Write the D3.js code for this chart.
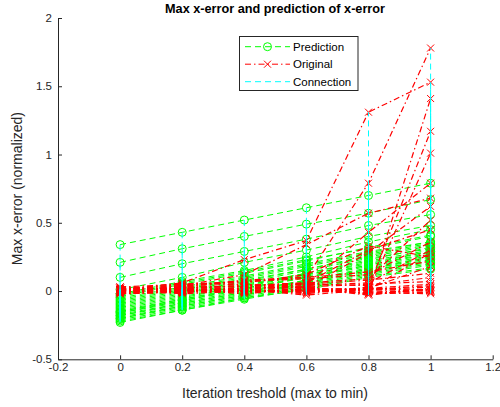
<!DOCTYPE html>
<html>
<head>
<meta charset="utf-8">
<script src="https://cdn.jsdelivr.net/npm/d3@7"></script>
<style>
  html, body { margin: 0; padding: 0; background: #fff; }
  svg { display: block; font-family: "Liberation Sans", Arial, Helvetica, sans-serif; }
</style>
</head>
<body>
<svg id="chart" width="500" height="407"></svg>
<script>
// Iteration thresholds (max to min), shared by every run
const thresholds = [0, 0.2, 0.4, 0.6, 0.8, 1];

// Predicted max x-error per run (normalized)
const predicted = [
  [0.34, 0.43, 0.52, 0.61, 0.70, 0.79],
  [0.21, 0.31, 0.40, 0.49, 0.57, 0.67],
  [0.10, 0.20, 0.29, 0.38, 0.48, 0.56],
  [0.01, 0.10, 0.21, 0.30, 0.40, 0.48],
  [-0.02, 0.07, 0.15, 0.25, 0.36, 0.45],
  [-0.04, 0.05, 0.13, 0.22, 0.32, 0.41],
  [-0.05, 0.03, 0.11, 0.20, 0.29, 0.36],
  [-0.07, 0.01, 0.09, 0.18, 0.27, 0.35],
  [-0.08, 0.00, 0.08, 0.16, 0.25, 0.33],
  [-0.10, -0.02, 0.06, 0.15, 0.24, 0.31],
  [-0.11, -0.03, 0.05, 0.13, 0.22, 0.30],
  [-0.13, -0.05, 0.04, 0.12, 0.21, 0.29],
  [-0.14, -0.06, 0.02, 0.11, 0.19, 0.27],
  [-0.15, -0.07, 0.01, 0.10, 0.18, 0.26],
  [-0.16, -0.08, 0.00, 0.08, 0.17, 0.25],
  [-0.17, -0.09, -0.01, 0.07, 0.16, 0.24],
  [-0.18, -0.10, -0.02, 0.06, 0.15, 0.22],
  [-0.19, -0.11, -0.03, 0.05, 0.14, 0.21],
  [-0.20, -0.12, -0.04, 0.04, 0.13, 0.20],
  [-0.21, -0.13, -0.05, 0.03, 0.12, 0.19],
  [-0.22, -0.14, -0.06, 0.02, 0.11, 0.17],
  [-0.23, -0.14, -0.05, 0.01, 0.10, 0.16],
  [-0.06, 0.02, 0.10, 0.19, 0.28, 0.36],
  [-0.09, -0.01, 0.07, 0.16, 0.26, 0.34],
  [-0.12, -0.04, 0.04, 0.13, 0.23, 0.32],
  [-0.16, -0.07, 0.02, 0.10, 0.19, 0.28],
  [-0.18, -0.09, -0.01, 0.08, 0.16, 0.25],
  [-0.20, -0.11, -0.03, 0.06, 0.15, 0.23],
  [-0.03, 0.06, 0.14, 0.23, 0.31, 0.40],
  [-0.15, -0.06, 0.03, 0.12, 0.20, 0.29]
];

// Measured (original) max x-error per run (normalized)
const original = [
  [0.01, 0.05, 0.07, 0.09, 0.12, 0.36],
  [-0.01, 0.02, 0.04, 0.05, 0.43, 0.79],
  [0.03, 0.01, 0.02, 0.04, 0.06, 0.30],
  [0.01, 0.06, 0.23, 0.37, 1.31, 1.53],
  [0.00, 0.03, 0.08, 0.10, 0.79, 1.78],
  [0.02, 0.04, 0.12, 0.34, 0.57, 0.68],
  [0.01, -0.01, 0.02, 0.03, -0.02, 1.41],
  [-0.02, 0.00, 0.01, -0.02, 0.03, 1.17],
  [0.00, 0.01, -0.01, 0.01, 0.00, 1.01],
  [0.02, 0.02, 0.04, 0.06, 0.30, 0.45],
  [0.03, 0.05, 0.06, 0.12, 0.33, 0.25],
  [-0.01, 0.01, 0.02, 0.03, 0.28, 0.62],
  [0.01, -0.02, 0.00, 0.01, 0.02, 0.18],
  [0.00, 0.03, 0.03, 0.05, 0.08, 0.13],
  [-0.02, 0.00, 0.01, -0.03, 0.01, 0.00],
  [0.01, 0.01, -0.02, 0.02, -0.03, 0.02],
  [0.00, 0.02, 0.00, 0.00, -0.01, -0.02],
  [-0.01, 0.04, 0.05, 0.02, 0.01, 0.04],
  [0.02, 0.01, 0.00, -0.01, 0.02, 0.05],
  [0.00, -0.01, 0.02, 0.03, -0.02, 0.01],
  [0.01, 0.02, 0.01, 0.00, 0.01, 0.03],
  [-0.02, -0.01, 0.00, 0.01, 0.00, -0.01],
  [0.01, 0.04, 0.07, 0.10, 0.14, 0.22],
  [0.02, 0.00, 0.02, 0.05, 0.04, 0.10],
  [0.00, 0.01, -0.01, 0.02, 0.01, 0.28],
  [-0.01, 0.00, 0.01, -0.01, 0.02, 0.00],
  [0.01, 0.03, 0.03, 0.01, -0.02, -0.01],
  [0.00, 0.01, 0.01, 0.00, 0.02, 0.01],
  [0.02, 0.02, 0.04, 0.06, 0.09, 0.52],
  [-0.01, 0.00, 0.02, 0.03, 0.05, 0.07]
];

// Axis ticks
const xTicks = [-0.2, 0, 0.2, 0.4, 0.6, 0.8, 1, 1.2];
const yTicks = [-0.5, 0, 0.5, 1, 1.5, 2];
const legendLabels = ["Prediction", "Original", "Connection"];

const GREEN = "#00ff00", RED = "#ff0000", CYAN = "#00ffff", AXIS = "#262626";

const svg = d3.select("#chart");
const plotLeft = 58, plotRight = 492.7, plotTop = 18, plotBottom = 359.3;

const x = d3.scaleLinear().domain([-0.2, 1.2]).range([plotLeft, plotRight]);
const y = d3.scaleLinear().domain([-0.5, 2]).range([plotBottom, plotTop]);

// Axes (left and bottom only, ticks pointing inward)
const fmt = d => String(d);
const xAxis = d3.axisBottom(x).tickValues(xTicks).tickFormat(fmt).tickSizeInner(-4).tickSizeOuter(0).tickPadding(4);
const yAxis = d3.axisLeft(y).tickValues(yTicks).tickFormat(fmt).tickSizeInner(-4).tickSizeOuter(0).tickPadding(6);

const gx = svg.append("g").attr("transform", `translate(0,${plotBottom})`).call(xAxis);
const gy = svg.append("g").attr("transform", `translate(${plotLeft},0)`).call(yAxis);
[gx, gy].forEach(g => {
  g.select(".domain").attr("stroke", AXIS).attr("stroke-width", 1);
  g.selectAll(".tick line").attr("stroke", AXIS).attr("stroke-width", 1);
  g.selectAll(".tick text").attr("fill", AXIS).attr("font-size", 11.5)
    .attr("font-family", "'Liberation Sans', Arial, sans-serif");
});

// Plot content: predictions, then originals, then connections on top
const line = d3.line().x(d => x(d[0])).y(d => y(d[1]));
const gPred = svg.append("g");
const gOrig = svg.append("g");
const gConn = svg.append("g");

function drawCross(g, cx, cy, s, color) {
  g.append("path")
    .attr("d", `M${cx - s},${cy - s}L${cx + s},${cy + s}M${cx - s},${cy + s}L${cx + s},${cy - s}`)
    .attr("stroke", color).attr("stroke-width", 1).attr("fill", "none");
}

predicted.forEach((pred, i) => {
  const orig = original[i];
  const pPts = thresholds.map((t, j) => [t, pred[j]]);
  const oPts = thresholds.map((t, j) => [t, orig[j]]);

  // prediction: dashed green with circles
  gPred.append("path").attr("d", line(pPts))
    .attr("fill", "none").attr("stroke", GREEN).attr("stroke-width", 1)
    .attr("stroke-dasharray", "6,4");
  pPts.forEach(p => {
    gPred.append("circle").attr("cx", x(p[0])).attr("cy", y(p[1])).attr("r", 4)
      .attr("fill", "none").attr("stroke", GREEN).attr("stroke-width", 1);
  });

  // original: dash-dot red with crosses
  gOrig.append("path").attr("d", line(oPts))
    .attr("fill", "none").attr("stroke", RED).attr("stroke-width", 1.2)
    .attr("stroke-dasharray", "6,3,1.5,3");
  oPts.forEach(p => drawCross(gOrig, x(p[0]), y(p[1]), 3.5, RED));

  // connection between prediction and original at each threshold
  thresholds.forEach((t, j) => {
    gConn.append("line")
      .attr("x1", x(t)).attr("x2", x(t))
      .attr("y1", y(pred[j])).attr("y2", y(orig[j]))
      .attr("stroke", CYAN).attr("stroke-width", 1)
      .attr("stroke-dasharray", "6,4");
  });
});

// Title and axis labels
svg.append("text").attr("x", 275).attr("y", 13).attr("text-anchor", "middle")
  .attr("font-size", 12.7).attr("font-weight", "bold").attr("fill", "#000")
  .text("Max x-error and prediction of x-error");
svg.append("text").attr("x", 275).attr("y", 398).attr("text-anchor", "middle")
  .attr("font-size", 14).attr("fill", AXIS)
  .text("Iteration treshold (max to min)");
svg.append("text").attr("transform", `translate(22,${(plotTop + plotBottom) / 2}) rotate(-90)`)
  .attr("text-anchor", "middle").attr("font-size", 14).attr("fill", AXIS)
  .text("Max x-error (normalized)");

// Legend
const lg = svg.append("g");
lg.append("rect").attr("x", 239.5).attr("y", 36.5).attr("width", 118.5).attr("height", 54)
  .attr("fill", "#fff").attr("stroke", AXIS).attr("stroke-width", 1);
const rows = [46.7, 64.2, 81.7];
const lx0 = 245, lx1 = 290, lxm = (lx0 + lx1) / 2;
// Prediction sample
lg.append("line").attr("x1", lx0).attr("x2", lx1).attr("y1", rows[0]).attr("y2", rows[0])
  .attr("stroke", GREEN).attr("stroke-dasharray", "6,4");
lg.append("circle").attr("cx", lxm).attr("cy", rows[0]).attr("r", 4)
  .attr("fill", "none").attr("stroke", GREEN);
// Original sample
lg.append("line").attr("x1", lx0).attr("x2", lx1).attr("y1", rows[1]).attr("y2", rows[1])
  .attr("stroke", RED).attr("stroke-dasharray", "6,3,1.5,3");
drawCross(lg, lxm, rows[1], 3.5, RED);
// Connection sample
lg.append("line").attr("x1", lx0).attr("x2", lx1).attr("y1", rows[2]).attr("y2", rows[2])
  .attr("stroke", CYAN).attr("stroke-dasharray", "6,4");
legendLabels.forEach((lab, i) => {
  lg.append("text").attr("x", 293).attr("y", rows[i] + 4).attr("font-size", 11.5)
    .attr("fill", "#000").text(lab);
});
</script>
</body>
</html>
